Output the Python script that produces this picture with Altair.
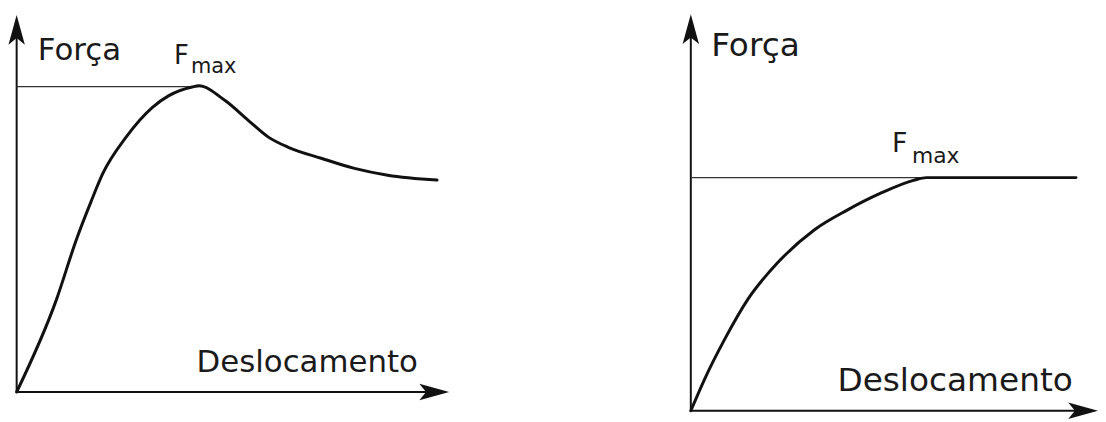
import altair as alt
import pandas as pd

# ---------------- data ----------------
# Left panel: force rises to a peak (Fmax) and then drops off
left_disp = [0, 9.2, 13.8, 17.2, 19.9, 25.3, 31.4, 35.2, 40.6, 42.1, 48.2, 53.6,
             58.2, 62.8, 70.4, 78.1, 85.8, 97.2]
left_force = [0, 24.5, 40.4, 50.5, 57.9, 67.6, 75.5, 78.6, 80.9, 81.2, 77.3, 72.0,
              67.6, 64.9, 62.0, 59.3, 57.5, 56.2]
left_fmax = 81.0
left_fmax_end = 42.1

# Right panel: force rises and levels off at Fmax
right_disp = [0, 3.4, 8.3, 14.0, 21.3, 30.3, 38.4, 46.5, 54.7, 57.9, 94.6]
right_force = [0, 8.0, 18.0, 28.1, 37.3, 45.6, 50.6, 54.8, 58.1, 58.8, 58.8]
right_fmax = 58.8
right_fmax_end = 94.6

axis_end = 100

# label anchors (data units) : Força, Deslocamento, F, max
left_label_x = [4.9, 41.6, 36.4, 40.3]
left_label_y = [88.1, 5.3, 87.0, 84.6]
right_label_x = [5.0, 36.0, 49.4, 54.3]
right_label_y = [89.5, 5.0, 65.2, 62.4]
label_texts = ["Força", "Deslocamento", "F", "max"]

FONT = "DejaVu Sans"
INK = "#111111"
ARROW_RIGHT = "M0,0 L-2,-0.55 L-1.55,0 L-2,0.55 Z"
ARROW_UP = "M0,0 L-0.55,2 L0,1.55 L0.55,2 Z"


def panel(disp, force, fmax, fmax_end, lab_x, lab_y, width, height,
          xdom, ydom, big, fsize, subsize):
    xs = alt.Scale(domain=xdom, nice=False, zero=False)
    ys = alt.Scale(domain=ydom, nice=False, zero=False)

    curve_df = pd.DataFrame({"x": disp, "y": force})
    axes_df = pd.DataFrame({"x": [0, 0], "y": [0, 0],
                            "x2": [0, axis_end - 3], "y2": [axis_end - 3, 0]})
    fmax_df = pd.DataFrame({"x": [0], "x2": [fmax_end], "y": [fmax]})
    up_df = pd.DataFrame({"x": [0], "y": [axis_end]})
    right_df = pd.DataFrame({"x": [axis_end], "y": [0]})
    lab_df = pd.DataFrame({"x": lab_x, "y": lab_y, "t": label_texts})

    axes = alt.Chart(axes_df).mark_rule(color=INK, strokeWidth=2).encode(
        x=alt.X("x:Q", scale=xs, axis=None), y=alt.Y("y:Q", scale=ys, axis=None),
        x2="x2:Q", y2="y2:Q")
    arrow_up = alt.Chart(up_df).mark_point(
        shape=ARROW_UP, size=900, filled=True, color=INK, opacity=1, strokeWidth=0
    ).encode(x=alt.X("x:Q", scale=xs, axis=None), y=alt.Y("y:Q", scale=ys, axis=None))
    arrow_right = alt.Chart(right_df).mark_point(
        shape=ARROW_RIGHT, size=900, filled=True, color=INK, opacity=1, strokeWidth=0
    ).encode(x=alt.X("x:Q", scale=xs, axis=None), y=alt.Y("y:Q", scale=ys, axis=None))
    fline = alt.Chart(fmax_df).mark_rule(color="#333333", strokeWidth=1.3).encode(
        x=alt.X("x:Q", scale=xs, axis=None), x2="x2:Q",
        y=alt.Y("y:Q", scale=ys, axis=None))
    curve = alt.Chart(curve_df).mark_line(
        color=INK, strokeWidth=3, interpolate="monotone", strokeCap="round"
    ).encode(x=alt.X("x:Q", scale=xs, axis=None), y=alt.Y("y:Q", scale=ys, axis=None))

    def txt(rows, size):
        return alt.Chart(lab_df.iloc[rows]).mark_text(
            font=FONT, fontSize=size, align="left", baseline="alphabetic", color="#1a1a1a"
        ).encode(x=alt.X("x:Q", scale=xs, axis=None),
                 y=alt.Y("y:Q", scale=ys, axis=None), text="t:N")

    return alt.layer(axes, fline, curve, arrow_up, arrow_right,
                     txt([0, 1], big), txt([2], fsize), txt([3], subsize)
                     ).properties(width=width, height=height)


left = panel(left_disp, left_force, left_fmax, left_fmax_end,
             left_label_x, left_label_y, 444, 406,
             [-2, 100], [-5.5, 101.5], 31, 26, 21)
right = panel(right_disp, right_force, right_fmax, right_fmax_end,
              right_label_x, right_label_y, 418, 406,
              [-2, 100], [-0.5, 101.25], 33, 27, 22)

chart = alt.hconcat(left, right, spacing=234).properties(
    padding={"left": 0, "top": 0, "right": 0, "bottom": 0}
).configure_view(stroke=None)

chart.save("out.html", embed_options={"renderer": "svg", "actions": False})
